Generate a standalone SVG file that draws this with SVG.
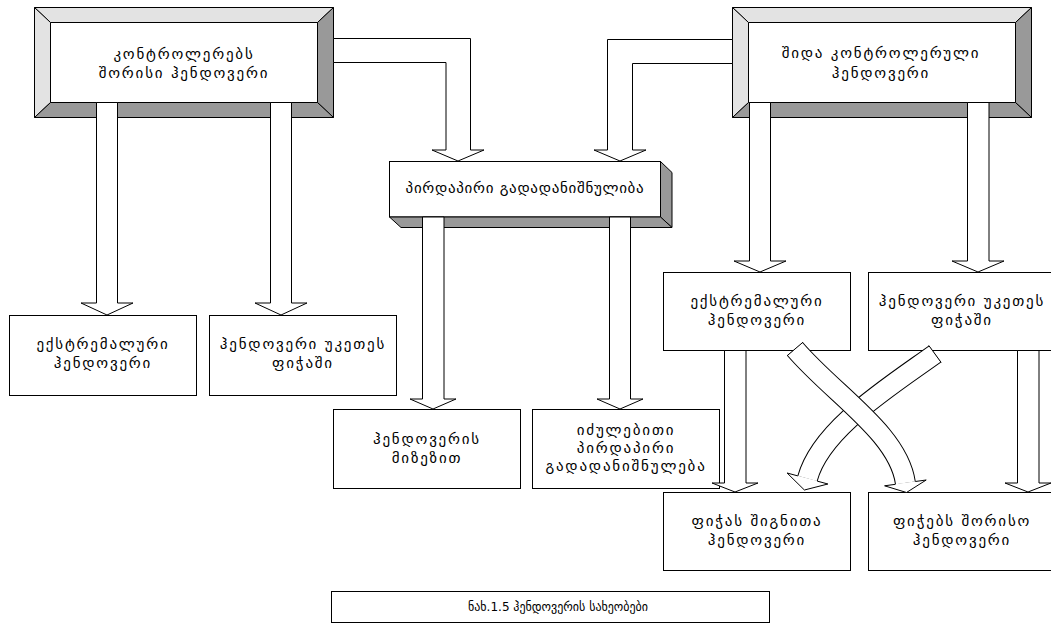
<svg xmlns="http://www.w3.org/2000/svg" width="1051" height="626" viewBox="0 0 1051 626">
<style>
.bx{fill:#fff;stroke:#000;stroke-width:1}
.lt{fill:#e3e3e3;stroke:#000;stroke-width:1}
.dk{fill:#999;stroke:#000;stroke-width:1}
.t{font-family:"DejaVu Sans",sans-serif;font-size:15px;letter-spacing:1.8px;text-anchor:middle;fill:#000}
.tm{letter-spacing:0.7px}
.cap{font-family:"DejaVu Sans",sans-serif;font-size:12px;text-anchor:middle;fill:#000}
.ar{fill:#fff;stroke:#000;stroke-width:1;stroke-linejoin:miter}
.sb{fill:none;stroke:#000;stroke-width:21}
.sw{fill:none;stroke:#fff;stroke-width:19}
.ln{fill:none;stroke:#000;stroke-width:1}
</style>
<rect width="1051" height="626" fill="#fff"/>
<g id="node-inter-controller">
<rect class="bx" x="50.5" y="22.5" width="267" height="80"/>
<polygon class="lt" points="34.5,7.5 333.5,7.5 317.5,22.5 50.5,22.5"/>
<polygon class="lt" points="34.5,7.5 50.5,22.5 50.5,102.5 34.5,117.5"/>
<polygon class="dk" points="333.5,7.5 333.5,117.5 317.5,102.5 317.5,22.5"/>
<polygon class="dk" points="34.5,117.5 50.5,102.5 317.5,102.5 333.5,117.5"/>
<text class="t" x="184" y="59">კონტროლერებს</text>
<text class="t" x="184" y="78">შორისი ჰენდოვერი</text>
</g>
<g id="node-intra-controller">
<rect class="bx" x="748.5" y="22.5" width="267" height="80"/>
<polygon class="lt" points="732.5,7.5 1031.5,7.5 1015.5,22.5 748.5,22.5"/>
<polygon class="lt" points="732.5,7.5 748.5,22.5 748.5,102.5 732.5,117.5"/>
<polygon class="dk" points="1031.5,7.5 1031.5,117.5 1015.5,102.5 1015.5,22.5"/>
<polygon class="dk" points="732.5,117.5 748.5,102.5 1015.5,102.5 1031.5,117.5"/>
<text class="t" x="881" y="58">შიდა კონტროლერული</text>
<text class="t" x="881" y="78">ჰენდოვერი</text>
</g>
<g id="node-direct">
<rect class="bx" x="389.5" y="161.5" width="271" height="55.5"/>
<polygon class="dk" points="660.5,161.5 672,172.5 672,227.5 660.5,217"/>
<polygon class="dk" points="389.5,217 660.5,217 672,227.5 401,227.5"/>
<text class="t tm" x="525" y="193">პირდაპირი გადადანიშნულიბა</text>
</g>
<g id="node-extreme-left">
<rect class="bx" x="9.5" y="315.5" width="187" height="80"/>
<text class="t" x="103" y="349">ექსტრემალური</text>
<text class="t" x="103" y="368">ჰენდოვერი</text>
</g>
<g id="node-better-left">
<rect class="bx" x="209.5" y="315.5" width="187" height="80"/>
<text class="t" x="303" y="349">ჰენდოვერი უკეთეს</text>
<text class="t" x="303" y="368">ფიჭაში</text>
</g>
<g id="node-reason">
<rect class="bx" x="333.5" y="409.5" width="187" height="79"/>
<text class="t" x="427" y="444">ჰენდოვერის</text>
<text class="t" x="427" y="463">მიზეზით</text>
</g>
<g id="node-forced">
<rect class="bx" x="532.5" y="409.5" width="187" height="79"/>
<text class="t" x="626" y="435">იძულებითი</text>
<text class="t" x="626" y="453">პირდაპირი</text>
<text class="t" x="626" y="471">გადადანიშნულება</text>
</g>
<g id="node-extreme-right">
<rect class="bx" x="663.5" y="272.5" width="187" height="78"/>
<text class="t" x="757" y="306">ექსტრემალური</text>
<text class="t" x="757" y="325">ჰენდოვერი</text>
</g>
<g id="node-better-right">
<rect class="bx" x="868.5" y="272.5" width="188" height="78"/>
<text class="t" x="962" y="306">ჰენდოვერი უკეთეს</text>
<text class="t" x="962" y="325">ფიჭაში</text>
</g>
<g id="node-intra-cell">
<rect class="bx" x="663.5" y="492.5" width="187" height="78"/>
<text class="t" x="757" y="526">ფიჭას შიგნითა</text>
<text class="t" x="757" y="545">ჰენდოვერი</text>
</g>
<g id="node-inter-cell">
<rect class="bx" x="868.5" y="492.5" width="188" height="78"/>
<text class="t" x="962" y="526">ფიჭებს შორისო</text>
<text class="t" x="962" y="545">ჰენდოვერი</text>
</g>
<g id="caption">
<rect class="bx" x="331.5" y="591.5" width="438" height="31"/>
<text class="cap" x="558" y="611">ნახ.1.5 ჰენდოვერის სახეობები</text>
</g>
<g id="connectors">
<polygon class="ar" points="96.5,102.5 117.5,102.5 117.5,303 133,303 107,315 81,303 96.5,303"/>
<polygon class="ar" points="270.5,102.5 291.5,102.5 291.5,303 307,303 281,315 255,303 270.5,303"/>
<polygon class="ar" points="333.5,38.5 470.5,38.5 470.5,150 484,150 458,161 432,150 446,150 446,62.5 333.5,62.5"/>
<polygon class="ar" points="732.5,39.5 607.5,39.5 607.5,150 594,150 620,161 646,150 632.5,150 632.5,63.5 732.5,63.5"/>
<polygon class="ar" points="422.5,217 444,217 444,399 456,399 433,409 410,399 422.5,399"/>
<polygon class="ar" points="609.5,217 630.5,217 630.5,399 643,399 620,409 597,399 609.5,399"/>
<polygon class="ar" points="749.5,102.5 770.5,102.5 770.5,261 786,261 760,272 734,261 749.5,261"/>
<polygon class="ar" points="967.5,102.5 989,102.5 989,261 1004,261 978,272 952,261 967.5,261"/>
<polygon class="ar" points="724.5,350.5 746,350.5 746,483 758,483 735,492 712,483 724.5,483"/>
<polygon class="ar" points="1017.5,350.5 1039,350.5 1039,483 1051,483 1028,492 1005,483 1017.5,483"/>
<g id="curve-b">
<path class="sb" d="M935,354 C886,389 820.5,430 807.5,478.5"/>
<path class="sw" d="M935,354 C886,389 820.5,430 807.5,478.5"/>
<path class="ar" d="M797.8,475.9 L787.1,473 L804.4,490 L827.9,484 L817.2,481.1"/>
<line class="ln" x1="928.8" y1="345.5" x2="941.2" y2="362.5"/>
</g>
<g id="curve-a">
<path class="sb" d="M795,349 C834,394.6 898.4,433.4 905.4,482.9"/>
<path class="sw" d="M795,349 C834,394.6 898.4,433.4 905.4,482.9"/>
<path class="ar" d="M895.5,484.3 L884.6,485.8 L906.5,492.5 L926.2,480 L915.3,481.5"/>
<line class="ln" x1="803" y1="342.2" x2="787" y2="355.8"/>
</g>
</g>
</svg>
